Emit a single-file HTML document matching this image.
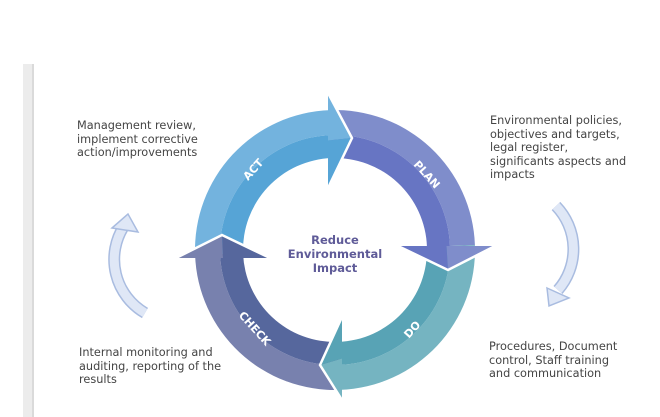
<!DOCTYPE html>
<html><head><meta charset="utf-8"><style>
html,body{margin:0;padding:0;background:#fff;}
body{width:660px;height:417px;position:relative;overflow:hidden;font-family:"DejaVu Sans","Liberation Sans",sans-serif;}
.bar{position:absolute;left:23px;top:64px;width:9px;height:353px;background:#ececec;border-right:2px solid #dadada;}
.t{position:absolute;font-size:11.3px;line-height:13.5px;color:#444;white-space:nowrap;}
svg{position:absolute;left:0;top:0;}
</style></head><body>
<div class="bar"></div>
<div class="t" style="left:77px;top:119px;">Management review,<br>implement corrective<br>action/improvements</div>
<div class="t" style="left:490px;top:114px;">Environmental policies,<br>objectives and targets,<br>legal register,<br>significants aspects and<br>impacts</div>
<div class="t" style="left:489px;top:340px;">Procedures, Document<br>control, Staff training<br>and communication</div>
<div class="t" style="left:79px;top:346px;">Internal monitoring and<br>auditing, reporting of the<br>results</div>
<svg id="s" width="660" height="417" viewBox="0 0 660 417">
<g id="ring"></g>
<path d="M145,313 A62,62 0 0 1 124,226" fill="none" stroke="#a9bce0" stroke-width="12"/>
<path d="M145,313 A62,62 0 0 1 124,226" fill="none" stroke="#dfe7f6" stroke-width="9"/>
<polygon points="112,228 128,214 138,232" fill="#dfe7f6" stroke="#a9bce0" stroke-width="1.5"/>
<path d="M556,206 A62,62 0 0 1 558,290" fill="none" stroke="#a9bce0" stroke-width="12"/>
<path d="M556,206 A62,62 0 0 1 558,290" fill="none" stroke="#dfe7f6" stroke-width="9"/>
<polygon points="547,288 569,298 549,306" fill="#dfe7f6" stroke="#a9bce0" stroke-width="1.5"/>
<g font-family="DejaVu Sans, Liberation Sans, sans-serif" font-weight="bold" fill="#fff" font-size="11" text-anchor="middle">
<text transform="translate(256,172) rotate(-48)">ACT</text>
<text transform="translate(424,177) rotate(48)">PLAN</text>
<text transform="translate(415,332) rotate(-48)">DO</text>
<text transform="translate(252,331) rotate(48)">CHECK</text>
</g>
<g font-family="DejaVu Sans, Liberation Sans, sans-serif" font-weight="bold" fill="#5f5b98" font-size="11.5" text-anchor="middle">
<text x="335" y="244">Reduce</text>
<text x="335" y="258">Environmental</text>
<text x="335" y="272">Impact</text>
</g>
</svg>
<script>
var cx=335,cy=250,R=140,M=115,r=92;
function P(a,rr){var t=a*Math.PI/180;return [cx+rr*Math.cos(t),cy+rr*Math.sin(t)];}
function band(a0,a1,ro,ri){var p1=P(a0,ro),p2=P(a1,ro),p3=P(a1,ri),p4=P(a0,ri);
return 'M'+p1+' A'+ro+','+ro+' 0 0 1 '+p2+' L'+p3+' A'+ri+','+ri+' 0 0 0 '+p4+'Z';}
var segs=[
 [178,268,'#73b3de','#56a4d6',[[328,93],[352,138],[328,188]]],
 [268,358,'#7f8dcb','#6775c3',[[495,246],[448,270],[398,246]]],
 [358,88,'#75b4c1','#58a3b5',[[342,400],[320,365],[342,317]]],
 [88,178,'#7881ae','#56679d',[[176,258],[222,235],[270,258]]]
];
var h='';
segs.forEach(function(s){var a1=s[1]<s[0]?s[1]+360:s[1];
h+='<path d="'+band(s[0],a1,R,M)+'" fill="'+s[2]+'"/>';
h+='<path d="'+band(s[0],a1,M,r)+'" fill="'+s[3]+'"/>';});
segs.forEach(function(s){var q=s[4];
var mid=[(q[0][0]+q[2][0])/2,(q[0][1]+q[2][1])/2];
h+='<polygon points="'+q[0]+' '+q[1]+' '+mid+'" fill="'+s[2]+'"/>';
h+='<polygon points="'+mid+' '+q[1]+' '+q[2]+'" fill="'+s[3]+'"/>';
h+='<polyline points="'+q[0]+' '+q[1]+' '+q[2]+'" fill="none" stroke="#fff" stroke-width="2.5"/>';});
document.getElementById('ring').innerHTML=h;
</script>
</body></html>
